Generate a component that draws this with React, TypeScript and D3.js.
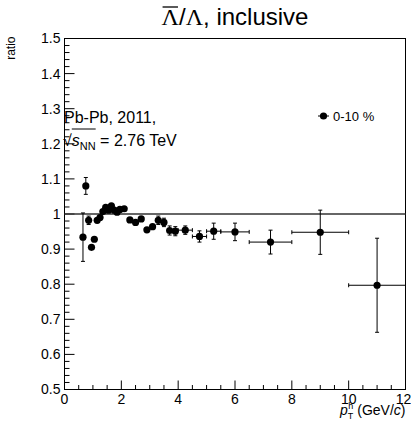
import React, { useEffect, useRef } from "react";
import * as d3 from "d3";

// ---- data ----
const ptCenters = [
  0.65, 0.75, 0.85, 0.95, 1.05, 1.15, 1.25, 1.35, 1.45, 1.55, 1.65, 1.75, 1.85, 1.95,
  2.1, 2.3, 2.5, 2.7, 2.9, 3.1, 3.3, 3.5, 3.7, 3.9,
  4.25, 4.75, 5.25, 6.0, 7.25, 9.0, 11.0,
];
const ptHalfWidths = [
  0.05, 0.05, 0.05, 0.05, 0.05, 0.05, 0.05, 0.05, 0.05, 0.05, 0.05, 0.05, 0.05, 0.05,
  0.1, 0.1, 0.1, 0.1, 0.1, 0.1, 0.1, 0.1, 0.1, 0.1,
  0.25, 0.25, 0.25, 0.5, 0.75, 1.0, 1.0,
];
const ratioValues = [
  0.934, 1.08, 0.982, 0.905, 0.928, 0.982, 0.99, 1.007, 1.019, 1.011, 1.023, 1.011, 1.005, 1.013,
  1.015, 0.983, 0.976, 0.986, 0.955, 0.964, 0.982, 0.976, 0.953, 0.951,
  0.954, 0.936, 0.951, 0.949, 0.92, 0.948, 0.797,
];
const ratioErrors = [
  0.069, 0.024, 0.012, 0.008, 0.007, 0.006, 0.006, 0.006, 0.006, 0.006, 0.006, 0.006, 0.006, 0.006,
  0.005, 0.005, 0.005, 0.006, 0.007, 0.008, 0.012, 0.012, 0.013, 0.013,
  0.012, 0.016, 0.023, 0.025, 0.034, 0.063, 0.134,
];
const xDomain = [0, 12];
const yDomain = [0.5, 1.5];
const xTickValues = [0, 2, 4, 6, 8, 10, 12];
const yTickValues = [0.5, 0.6, 0.7, 0.8, 0.9, 1.0, 1.1, 1.2, 1.3, 1.4, 1.5];
const legendLabel = "0-10 %";
const systemLine1 = "Pb-Pb, 2011,";
const energyLabel = " = 2.76 TeV";
const yTitle = "ratio";

const SANS = "'Liberation Sans', Arial, Helvetica, sans-serif";
const SERIF = "'Liberation Serif', 'Times New Roman', serif";

export default function App() {
  const ref = useRef<SVGSVGElement>(null);

  useEffect(() => {
    const svg = d3.select(ref.current);
    svg.selectAll("*").remove();

    const x = d3.scaleLinear().domain(xDomain).range([64.5, 405.5]);
    const y = d3.scaleLinear().domain(yDomain).range([389.5, 38.5]);
    const [x0, x1] = x.range();
    const [yb, yt] = y.range();

    // frame
    svg.append("rect")
      .attr("x", x0).attr("y", yt).attr("width", x1 - x0).attr("height", yb - yt)
      .attr("fill", "none").attr("stroke", "#000").attr("stroke-width", 1);

    // y ticks
    const yMinor = d3.range(0, 51).map((i) => 0.5 + i * 0.02);
    svg.append("g").selectAll("line").data(yMinor).join("line")
      .attr("x1", x0).attr("x2", (d, i) => x0 + (i % 5 === 0 ? 10 : 5))
      .attr("y1", (d) => y(d)).attr("y2", (d) => y(d))
      .attr("stroke", "#000").attr("stroke-width", 1);
    svg.append("g").selectAll("text").data(yTickValues).join("text")
      .attr("x", x0 - 4).attr("y", (d) => y(d)).attr("dy", "0.35em")
      .attr("text-anchor", "end").attr("font-family", SANS).attr("font-size", 14)
      .text((d) => (d === 1 ? "1" : d3.format(".1f")(d)));

    // x ticks
    const xMinor = d3.range(0, 25).map((i) => i * 0.5);
    svg.append("g").selectAll("line").data(xMinor).join("line")
      .attr("x1", (d) => x(d)).attr("x2", (d) => x(d))
      .attr("y1", yb).attr("y2", (d, i) => yb - (i % 4 === 0 ? 9 : 4.5))
      .attr("stroke", "#000").attr("stroke-width", 1);
    svg.append("g").selectAll("text").data(xTickValues).join("text")
      .attr("x", (d) => (d === 12 ? x(d) - 2 : x(d))).attr("y", yb + 14)
      .attr("text-anchor", "middle").attr("font-family", SANS).attr("font-size", 14)
      .text((d) => String(d));

    // reference line at 1
    svg.append("line")
      .attr("x1", x0).attr("x2", x1).attr("y1", y(1)).attr("y2", y(1))
      .attr("stroke", "#333").attr("stroke-width", 1.3);

    // data
    const pts = ptCenters.map((c, i) => ({
      x: c, hw: ptHalfWidths[i], v: ratioValues[i], e: ratioErrors[i],
    }));
    const g = svg.append("g").attr("stroke", "#000").attr("stroke-width", 1);
    const cap = 2;
    pts.forEach((p) => {
      const cx = x(p.x), cy = y(p.v);
      g.append("line").attr("x1", x(p.x - p.hw)).attr("x2", x(p.x + p.hw)).attr("y1", cy).attr("y2", cy);
      g.append("line").attr("x1", cx).attr("x2", cx).attr("y1", y(p.v - p.e)).attr("y2", y(p.v + p.e));
      if (p.e * 350 > 4) {
        g.append("line").attr("x1", cx - cap).attr("x2", cx + cap).attr("y1", y(p.v - p.e)).attr("y2", y(p.v - p.e));
        g.append("line").attr("x1", cx - cap).attr("x2", cx + cap).attr("y1", y(p.v + p.e)).attr("y2", y(p.v + p.e));
      }
      if (p.hw * 28.4 > 4) {
        g.append("line").attr("x1", x(p.x - p.hw)).attr("x2", x(p.x - p.hw)).attr("y1", cy - cap).attr("y2", cy + cap);
        g.append("line").attr("x1", x(p.x + p.hw)).attr("x2", x(p.x + p.hw)).attr("y1", cy - cap).attr("y2", cy + cap);
      }
    });
    svg.append("g").selectAll("circle").data(pts).join("circle")
      .attr("cx", (d) => x(d.x)).attr("cy", (d) => y(d.v)).attr("r", 3.6).attr("fill", "#000");

    // legend
    const lg = svg.append("g");
    lg.append("line").attr("x1", 318).attr("x2", 329).attr("y1", 116).attr("y2", 116)
      .attr("stroke", "#000").attr("stroke-width", 1);
    lg.append("circle").attr("cx", 323.5).attr("cy", 116).attr("r", 3.6).attr("fill", "#000");
    lg.append("text").attr("x", 333).attr("y", 116).attr("dy", "0.35em")
      .attr("font-family", SANS).attr("font-size", 13).text(legendLabel);

    // system text
    svg.append("text").attr("x", 64).attr("y", 123)
      .attr("font-family", SANS).attr("font-size", 16).text(systemLine1);
    const en = svg.append("text").attr("x", 63).attr("y", 146)
      .attr("font-family", SANS).attr("font-size", 16);
    en.append("tspan").text("\u221A");
    en.append("tspan").attr("font-style", "italic").text("s");
    en.append("tspan").attr("font-size", 11).attr("dy", 4).text("NN");
    en.append("tspan").attr("dy", -4).text(energyLabel);
    try {
      const node = en.node() as SVGTextElement;
      const s0 = node.getExtentOfChar(1);
      const s3 = node.getExtentOfChar(3);
      svg.append("line").attr("x1", s0.x).attr("x2", s3.x + s3.width)
        .attr("y1", 129).attr("y2", 129).attr("stroke", "#000").attr("stroke-width", 1);
    } catch (e) { /* ignore */ }

    // title
    const title = svg.append("text").attr("x", (x0 + x1) / 2).attr("y", 25)
      .attr("text-anchor", "middle").attr("font-family", SANS).attr("font-size", 24);
    title.append("tspan").attr("font-family", SERIF).text("\u039B");
    title.append("tspan").text("/");
    title.append("tspan").attr("font-family", SERIF).text("\u039B");
    title.append("tspan").text(", inclusive");
    try {
      const node = title.node() as SVGTextElement;
      const c0 = node.getExtentOfChar(0);
      svg.append("line").attr("x1", c0.x + 1).attr("x2", c0.x + c0.width - 1)
        .attr("y1", c0.y + 3).attr("y2", c0.y + 3).attr("stroke", "#000").attr("stroke-width", 1.3);
    } catch (e) { /* ignore */ }

    // y title
    svg.append("text").attr("transform", `translate(15, ${yt - 2}) rotate(-90)`)
      .attr("text-anchor", "end").attr("font-family", SANS).attr("font-size", 12).text(yTitle);

    // x title
    const xt = svg.append("text").attr("x", x1).attr("y", 415)
      .attr("text-anchor", "end").attr("font-family", SANS).attr("font-size", 14);
    xt.append("tspan").attr("font-style", "italic").text("p");
    xt.append("tspan").attr("font-size", 9).attr("dy", 4).text("T");
    xt.append("tspan").attr("font-size", 9).attr("dx", -5).attr("dy", -10).text("h");
    xt.append("tspan").attr("dy", 6).text(" (GeV/");
    xt.append("tspan").attr("font-style", "italic").text("c");
    xt.append("tspan").text(")");
  }, []);

  return (
    <svg
      ref={ref}
      width={411}
      height={424}
      style={{ position: "absolute", left: 0, top: 0, background: "#fff" }}
    />
  );
}
